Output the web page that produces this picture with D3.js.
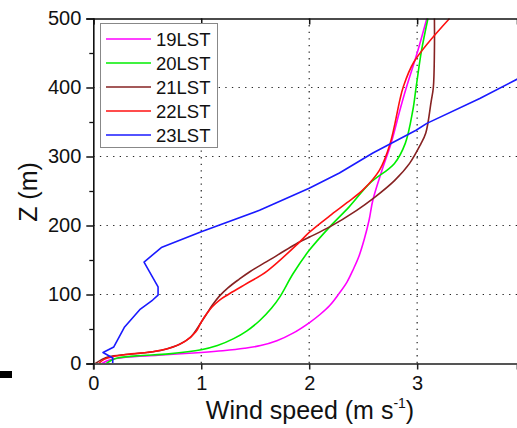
<!DOCTYPE html>
<html>
<head>
<meta charset="utf-8">
<script src="https://cdn.jsdelivr.net/npm/d3@7"></script>
<style>
  html, body { margin: 0; padding: 0; background: #fff; }
  svg { display: block; font-family: "Liberation Sans", Arial, sans-serif; }
</style>
</head>
<body>
<svg id="chart" width="517" height="428"></svg>
<script>
// Wind speed profiles (m s-1) against height Z (m), one per local hour
const seriesNames = ["19LST", "20LST", "21LST", "22LST", "23LST"];
const seriesColors = ["#ff00ff", "#00ee00", "#862222", "#ff1010", "#1a1aff"];

const z19 = [0, 5, 9, 12, 16, 18.5, 22, 26, 33, 44, 59, 71, 84, 100, 118, 137, 155, 180, 208, 237, 278, 320, 367, 400, 450, 500];
const u19 = [0.08, 0.15, 0.3, 0.6, 1.0, 1.2, 1.4, 1.55, 1.7, 1.85, 2.0, 2.1, 2.19, 2.27, 2.35, 2.41, 2.46, 2.51, 2.555, 2.59, 2.67, 2.76, 2.84, 2.9, 3.0, 3.09];

const z20 = [0, 7, 11, 14, 20, 26, 36, 47, 62, 80, 97, 130, 164, 198, 227, 261, 290, 319, 367, 400, 453, 500];
const u20 = [0.12, 0.2, 0.4, 0.7, 1.0, 1.15, 1.3, 1.42, 1.54, 1.65, 1.73, 1.85, 2.0, 2.19, 2.37, 2.56, 2.79, 2.89, 2.96, 2.99, 3.04, 3.1];

const z21 = [0, 6, 10, 13, 16, 20, 28, 38, 60, 72, 84, 98, 110, 122, 133, 148, 176, 183, 198, 222, 240, 265, 290, 317, 334, 380, 400, 453, 500];
const u21 = [0.02, 0.08, 0.15, 0.3, 0.5, 0.65, 0.8, 0.9, 1.0, 1.05, 1.1, 1.17, 1.25, 1.35, 1.45, 1.61, 1.91, 2.0, 2.19, 2.44, 2.6, 2.79, 2.93, 3.03, 3.08, 3.13, 3.15, 3.16, 3.16];

const z22 = [0, 6, 10, 14, 17, 22, 32, 46, 60, 72, 82, 92, 100, 114, 134, 176, 190, 214, 233, 252, 280, 319, 382, 400, 437, 500];
const u22 = [0.05, 0.1, 0.18, 0.35, 0.55, 0.7, 0.85, 0.95, 1.0, 1.05, 1.1, 1.17, 1.25, 1.4, 1.61, 1.91, 2.0, 2.19, 2.35, 2.5, 2.65, 2.75, 2.84, 2.87, 2.97, 3.3];

const z23 = [0, 8, 16, 24, 53, 78, 92, 99, 111, 147, 168, 191, 222, 254, 276, 305, 338, 348, 384, 414];
const u23 = [0.18, 0.18, 0.09, 0.19, 0.29, 0.43, 0.55, 0.6, 0.6, 0.47, 0.63, 1.0, 1.54, 2.0, 2.28, 2.59, 2.99, 3.09, 3.58, 3.95];

const xTicks = [0, 1, 2, 3];
const yTicks = [0, 100, 200, 300, 400, 500];
const yMinorTicks = [50, 150, 250, 350, 450];
const xTitle = "Wind speed (m s";
const yTitle = "Z (m)";

const profiles = [
  { name: seriesNames[0], color: seriesColors[0], z: z19, u: u19, smooth: true },
  { name: seriesNames[1], color: seriesColors[1], z: z20, u: u20, smooth: true },
  { name: seriesNames[2], color: seriesColors[2], z: z21, u: u21, smooth: true },
  { name: seriesNames[3], color: seriesColors[3], z: z22, u: u22, smooth: true },
  { name: seriesNames[4], color: seriesColors[4], z: z23, u: u23, smooth: false }
];

const svg = d3.select("#chart");
const plotL = 93.3, plotR = 517, plotT = 18.5, plotB = 363.5;

const x = d3.scaleLinear().domain([0, 3.925]).range([plotL, plotR]);
const y = d3.scaleLinear().domain([0, 500]).range([plotB, plotT]);

svg.append("defs").append("clipPath").attr("id", "plotClip")
  .append("rect").attr("x", plotL).attr("y", plotT - 1)
  .attr("width", plotR - plotL).attr("height", plotB - plotT + 1);

// dotted grid
const grid = svg.append("g").attr("stroke", "#222").attr("stroke-width", 1.2)
  .attr("stroke-dasharray", "1.3,5.3");
grid.selectAll("line.gx").data(xTicks.filter(d => d > 0)).join("line")
  .attr("x1", d => x(d)).attr("x2", d => x(d)).attr("y1", plotT).attr("y2", plotB);
grid.selectAll("line.gy").data(yTicks.filter(d => d > 0 && d < 500)).join("line")
  .attr("x1", plotL).attr("x2", plotR).attr("y1", d => y(d)).attr("y2", d => y(d));

// profile lines
const plot = svg.append("g").attr("clip-path", "url(#plotClip)");
profiles.forEach(p => {
  const pts = p.z.map((zz, i) => [p.u[i], zz]);
  const line = d3.line()
    .x(d => x(d[0])).y(d => y(d[1]))
    .curve(p.smooth ? d3.curveCatmullRom.alpha(0.5) : d3.curveLinear);
  plot.append("path").datum(pts)
    .attr("fill", "none").attr("stroke", p.color)
    .attr("stroke-width", 1.6).attr("stroke-linejoin", "round")
    .attr("d", line);
});

// bottom axis
const xAxis = svg.append("g").attr("transform", `translate(0,${plotB})`)
  .call(d3.axisBottom(x).tickValues(xTicks).tickFormat(d3.format("d")).tickSizeOuter(0).tickSize(6).tickPadding(6));
xAxis.select(".domain").attr("stroke", "#555").attr("stroke-width", 2);
xAxis.selectAll(".tick line").attr("stroke", "#222").attr("stroke-width", 1.5);
xAxis.selectAll(".tick text").attr("font-size", 20).attr("fill", "#111")
  .attr("font-family", "Liberation Sans, Arial, sans-serif");

// top axis with inward ticks
const xTop = svg.append("g").attr("transform", `translate(0,${plotT})`)
  .call(d3.axisTop(x).tickValues(xTicks).tickFormat("").tickSizeOuter(0).tickSize(-6));
xTop.select(".domain").attr("stroke", "#111").attr("stroke-width", 1.6);
xTop.selectAll(".tick line").attr("stroke", "#111").attr("stroke-width", 1.5);

// left axis
const yAxis = svg.append("g").attr("transform", `translate(${plotL},0)`)
  .call(d3.axisLeft(y).tickValues(yTicks).tickFormat(d3.format("d")).tickSizeOuter(0).tickSize(7).tickPadding(5));
yAxis.select(".domain").attr("stroke", "#111").attr("stroke-width", 1.6);
yAxis.selectAll(".tick line").attr("stroke", "#111").attr("stroke-width", 1.5);
yAxis.selectAll(".tick text").attr("font-size", 20).attr("fill", "#111")
  .attr("font-family", "Liberation Sans, Arial, sans-serif");
svg.append("g").attr("transform", `translate(${plotL},0)`)
  .call(d3.axisLeft(y).tickValues(yMinorTicks).tickFormat("").tickSizeOuter(0).tickSize(4))
  .call(g => g.select(".domain").remove())
  .selectAll(".tick line").attr("stroke", "#111").attr("stroke-width", 1.3);

// axis titles
const xt = svg.append("text").attr("x", 310).attr("y", 419)
  .attr("text-anchor", "middle").attr("font-size", 25).attr("fill", "#111");
xt.append("tspan").text(xTitle);
xt.append("tspan").attr("font-size", 14).attr("dy", -11).text("-1");
xt.append("tspan").attr("dy", 11).text(")");

svg.append("text")
  .attr("transform", "translate(37,192) rotate(-90)")
  .attr("text-anchor", "middle").attr("font-size", 25).attr("fill", "#111")
  .text(yTitle);

// small marker at lower left
svg.append("rect").attr("x", 0).attr("y", 371).attr("width", 12).attr("height", 7).attr("fill", "#000");

// legend
const lg = svg.append("g");
lg.append("rect").attr("x", 100.5).attr("y", 23.5).attr("width", 117).attr("height", 124)
  .attr("fill", "#fff").attr("stroke", "#888").attr("stroke-width", 1);
const rowY = d3.scalePoint().domain(seriesNames).range([39, 135]);
profiles.forEach(p => {
  const yy = rowY(p.name);
  lg.append("line").attr("x1", 106).attr("x2", 151).attr("y1", yy).attr("y2", yy)
    .attr("stroke", p.color).attr("stroke-width", 1.6);
  lg.append("text").attr("x", 156).attr("y", yy + 7).attr("font-size", 18.5)
    .attr("fill", "#111").text(p.name);
});
</script>
</body>
</html>
